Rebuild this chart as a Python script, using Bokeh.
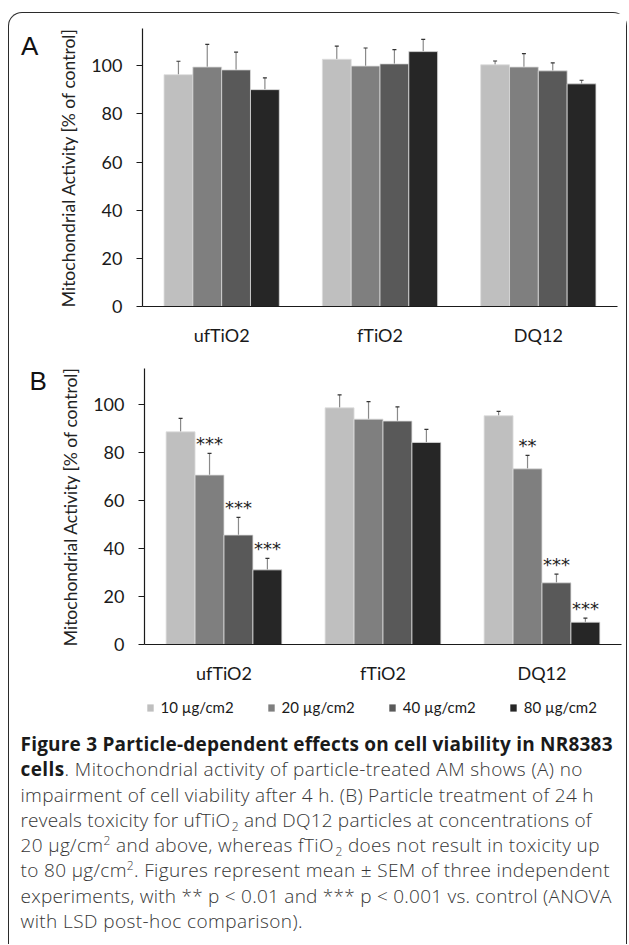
from bokeh.plotting import figure
from bokeh.models import (ColumnDataSource, FactorRange, Range1d, FixedTicker, Whisker,
                          TeeHead, Legend, LegendItem, Div)
from bokeh.transform import dodge
from bokeh.layouts import column, row
from bokeh.core.properties import value
from bokeh.embed import file_html
from bokeh.resources import INLINE

# ---------------- data ----------------
categories = ["ufTiO2", "fTiO2", "DQ12"]
series = ["10 µg/cm2", "20 µg/cm2", "40 µg/cm2", "80 µg/cm2"]
y_ticks = [0, 20, 40, 60, 80, 100]

# Panel A (4 h): mean and SEM per concentration, by particle
a_10 = [96.3, 102.7, 100.4]
a_20 = [99.5, 99.9, 99.5]
a_40 = [98.3, 100.8, 97.9]
a_80 = [90.1, 105.9, 92.5]
a_10_sem = [5.6, 5.5, 1.6]
a_20_sem = [9.4, 7.5, 5.6]
a_40_sem = [7.4, 5.9, 3.3]
a_80_sem = [4.9, 5.1, 1.5]

# Panel B (24 h)
b_10 = [88.6, 98.6, 95.3]
b_20 = [70.6, 93.9, 73.2]
b_40 = [45.6, 93.1, 25.7]
b_80 = [31.1, 84.2, 9.3]
b_10_sem = [5.6, 5.4, 1.8]
b_20_sem = [9.0, 7.3, 5.6]
b_40_sem = [7.4, 5.9, 3.6]
b_80_sem = [4.8, 5.4, 1.7]

# significance marks for panel B
b_10_sig = ["", "", ""]
b_20_sig = ["***", "", "**"]
b_40_sig = ["***", "", "***"]
b_80_sig = ["***", "", "***"]

y_title = "Mitochondrial Activity [% of control]"

# ---------------- style ----------------
colors = ["#bfbfbf", "#7f7f7f", "#595959", "#262626"]
offsets = [-0.273, -0.091, 0.091, 0.273]
bar_w = 0.182
FONT = "Lato"
W_LET = 46
W_FIG = 571
W_ALL = W_LET + W_FIG


def panel(means, sems, sigs, ymax, height, ml, mr, mt, mb):
    p = figure(x_range=FactorRange(factors=categories, range_padding=0),
               y_range=Range1d(0, ymax), width=W_FIG, height=height,
               min_border_left=ml, min_border_right=mr, min_border_top=mt,
               min_border_bottom=mb, output_backend="svg", toolbar_location=None)
    p.outline_line_color = None
    p.xgrid.grid_line_color = None
    p.ygrid.grid_line_color = None

    for i in range(len(series)):
        up = [m + e for m, e in zip(means[i], sems[i])]
        data = dict(cat=categories, val=means[i], up=up)
        if sigs is not None:
            data["sig"] = sigs[i]
        src = ColumnDataSource(data)
        p.vbar(x=dodge("cat", offsets[i], range=p.x_range), top="val", width=bar_w,
               source=src, fill_color=colors[i], line_color="#dcdcdc", line_width=0.8)
        w = Whisker(source=src, base=dodge("cat", offsets[i], range=p.x_range),
                    upper="up", lower="val", line_color="#8a8a8a", line_width=1.2,
                    upper_head=TeeHead(size=4, line_color="#333333", line_width=1.2),
                    lower_head=None)
        p.add_layout(w)
        if sigs is not None:
            p.text(x=dodge("cat", offsets[i], range=p.x_range), y="up", text="sig",
                   source=src, text_align="center", text_baseline="alphabetic",
                   y_offset=-10, text_font=value("DejaVu Sans"),
                   text_font_size="18px", text_color="#222222")

    p.yaxis.ticker = FixedTicker(ticks=y_ticks)
    p.yaxis.major_tick_out = 6
    p.yaxis.major_tick_in = 0
    p.yaxis.minor_tick_out = 0
    p.yaxis.minor_tick_in = 0
    p.yaxis.major_label_standoff = 14
    p.yaxis.axis_label = y_title
    p.yaxis.axis_label_standoff = 9
    p.yaxis.axis_label_text_font = FONT
    p.yaxis.axis_label_text_font_style = "normal"
    p.yaxis.axis_label_text_font_size = "17.5px"
    p.yaxis.axis_label_text_color = "#222222"

    p.xaxis.major_tick_out = 0
    p.xaxis.major_tick_in = 0
    p.xaxis.major_label_standoff = 17

    for ax in (p.xaxis, p.yaxis):
        ax.axis_line_color = "#1a1a1a"
        ax.axis_line_width = 1.2
        ax.major_tick_line_color = "#1a1a1a"
        ax.major_label_text_font = FONT
        ax.major_label_text_font_size = "18px"
        ax.major_label_text_color = "#1a1a1a"
    return p


def letter(txt, height, pad_top, pad_left):
    return Div(text=txt, width=W_LET, height=height, margin=0,
               styles={"font-family": "Liberation Sans", "font-size": "26px",
                       "line-height": "26px", "color": "#111111",
                       "padding-top": f"{pad_top}px", "padding-left": f"{pad_left}px",
                       "box-sizing": "border-box"})


pA = panel([a_10, a_20, a_40, a_80], [a_10_sem, a_20_sem, a_40_sem, a_80_sem], None,
           115.5, 337, 85, 9, 15, 44)
pB = panel([b_10, b_20, b_40, b_80], [b_10_sem, b_20_sem, b_40_sem, b_80_sem],
           [b_10_sig, b_20_sig, b_40_sig, b_80_sig],
           115, 340, 89, 5, 18, 46)

# legend strip (key for the four concentrations)
pL = figure(width=W_ALL, height=32, x_range=Range1d(0, 1), y_range=Range1d(0, 1),
            x_axis_type=None, y_axis_type=None, min_border=0,
            output_backend="svg", toolbar_location=None)
pL.outline_line_color = None
key_vals = [b_10, b_20, b_40, b_80]
key_items = []
for i, s in enumerate(series):
    rk = pL.vbar(x=list(range(len(categories))), top=key_vals[i], width=0.1,
                 fill_color=colors[i], line_color=None, visible=False)
    key_items.append(LegendItem(label=s, renderers=[rk]))
pL.add_layout(Legend(items=key_items, orientation="horizontal", location=(136.5, 6),
                     glyph_width=8, glyph_height=9, label_standoff=7, spacing=33,
                     label_width=72, label_height=9, padding=0, margin=0,
                     border_line_color=None, background_fill_alpha=0,
                     label_text_font=FONT, label_text_font_size="15px",
                     label_text_color="#1a1a1a"))

# caption, one svg text per printed line, each fitted to its printed width
SUP = '<tspan dy="-7" font-size="12">2</tspan><tspan dy="7">'
SUB = '<tspan dx="1.5" dy="4" font-size="12">2</tspan><tspan dy="-4">'
B0 = '<tspan font-weight="700" fill="#1a1a1a">'
cap_lines = [
    (B0 + "Figure 3 Particle-dependent effects on cell viability in NR8383</tspan>", 592),
    (B0 + "cells</tspan><tspan>. Mitochondrial activity of particle-treated AM shows (A) no</tspan>", 562),
    ("<tspan>impairment of cell viability after 4 h. (B) Particle treatment of 24 h</tspan>", 573),
    ("<tspan>reveals toxicity for ufTiO" + SUB + " and DQ12 particles at concentrations of</tspan></tspan>", 571),
    ("<tspan>20 µg/cm" + SUP + " and above, whereas fTiO" + SUB + " does not result in toxicity up</tspan></tspan></tspan>", 579),
    ("<tspan>to 80 µg/cm" + SUP + ". Figures represent mean ± SEM of three independent</tspan></tspan>", 589),
    ("<tspan>experiments, with ** p &lt; 0.01 and *** p &lt; 0.001 vs. control (ANOVA</tspan>", 591),
    ("<tspan>with LSD post-hoc comparison).</tspan>", 282),
]
texts = []
for k, (t, wl) in enumerate(cap_lines):
    y = 29 + k * 25.25
    texts.append(f'<text x="11.5" y="{y:.2f}" textLength="{wl}" lengthAdjust="spacing">{t}</text>')
svg = ('<svg xmlns="http://www.w3.org/2000/svg" width="617" height="222" '
       'style="font-family:\'Open Sans\',sans-serif;font-size:19px;font-weight:300;fill:#363636">'
       + "".join(texts) + "</svg>")
cap = Div(text=svg, width=W_ALL, height=222, margin=0,
          styles={"overflow": "hidden", "line-height": "0"})

layout = column(
    row(letter("A", 337, 20, 12), pA),
    row(letter("B", 340, 17.5, 20.5), pB),
    pL,
    cap,
    margin=(12, 0, 0, 8),
    styles={"border": "1.5px solid #2b2b2b", "border-bottom": "none",
            "border-radius": "14px 14px 0 0"})

open("out.html", "w").write(file_html(layout, INLINE))
